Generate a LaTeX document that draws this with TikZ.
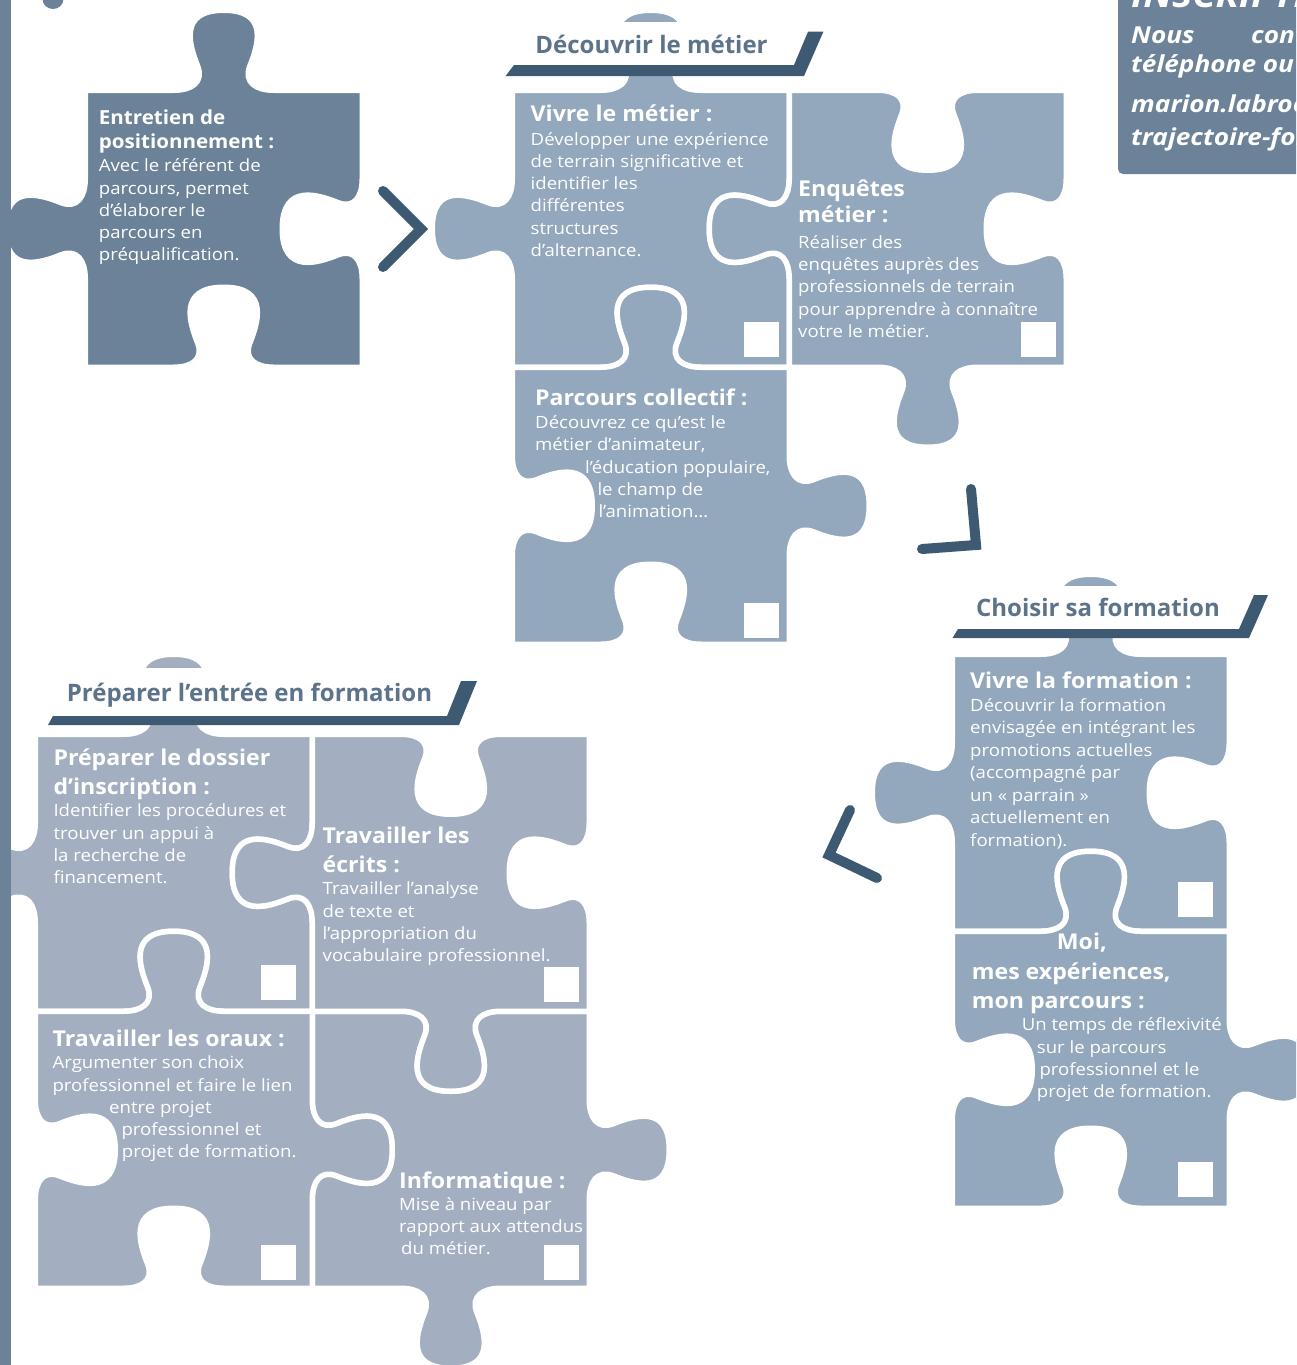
\documentclass[tikz,border=0pt]{standalone}
\usepackage{fontspec}
\setmainfont{Open Sans}
\newfontfamily\bodyf[FakeStretch=1.1]{Open Sans}
\newfontfamily\headf[FakeStretch=1.06]{Open Sans}
\newfontfamily\infof[FakeStretch=1.12]{Open Sans}
\definecolor{darkpiece}{RGB}{107,130,152}
\definecolor{navy}{RGB}{62,90,115}
\definecolor{titlec}{RGB}{92,115,138}
\definecolor{lightA}{RGB}{147,167,189}
\definecolor{lightB}{RGB}{163,175,193}
% one side of a puzzle piece: centre (#1,#2), direction (#3,#4), k=#5 (1 tab out, -1 blank in)
\newcommand\side[5]{%
 -- ({#1+(-50)*(#3)},{#2+(-50)*(#4)})
 .. controls ({#1+(-32)*(#3)},{#2+(-32)*(#4)})
 and ({#1+(-20)*(#3)+(#5)*(8)*(#4)},{#2+(-20)*(#4)-(#5)*(8)*(#3)})
 .. ({#1+(-26)*(#3)+(#5)*(24)*(#4)},{#2+(-26)*(#4)-(#5)*(24)*(#3)})
 .. controls ({#1+(-34)*(#3)+(#5)*(44)*(#4)},{#2+(-34)*(#4)-(#5)*(44)*(#3)})
 and ({#1+(-46)*(#3)+(#5)*(80)*(#4)},{#2+(-46)*(#4)-(#5)*(80)*(#3)})
 .. ({#1+(#5)*(80)*(#4)},{#2-(#5)*(80)*(#3)})
 .. controls ({#1+(46)*(#3)+(#5)*(80)*(#4)},{#2+(46)*(#4)-(#5)*(80)*(#3)})
 and ({#1+(34)*(#3)+(#5)*(44)*(#4)},{#2+(34)*(#4)-(#5)*(44)*(#3)})
 .. ({#1+(26)*(#3)+(#5)*(24)*(#4)},{#2+(26)*(#4)-(#5)*(24)*(#3)})
 .. controls ({#1+(20)*(#3)+(#5)*(8)*(#4)},{#2+(20)*(#4)-(#5)*(8)*(#3)})
 and ({#1+(32)*(#3)},{#2+(32)*(#4)})
 .. ({#1+(50)*(#3)},{#2+(50)*(#4)})
}
\newcommand\piece[7]{%
 \edef\ppath{({#1},{#2})
  \side{#1+138.5}{#2}{1}{0}{#3} -- ({#1+277},{#2})
  \side{#1+277}{#2+138.5}{0}{1}{#4} -- ({#1+277},{#2+277})
  \side{#1+138.5}{#2+277}{-1}{0}{#5} -- ({#1},{#2+277})
  \side{#1}{#2+138.5}{0}{-1}{#6} -- cycle}%
 \path[#7] \ppath;%
}
\newcommand\HL[4]{\node[head] (#1) at (#2,#3) {#4};}
\newcommand\BL[4]{\node[body] (#1) at (#2,#3) {#4};}
\begin{document}
\begin{tikzpicture}[x=1pt,y=-1pt,
 piece/.style={fill=#1, draw=white, line width=5.5pt, line join=round},
 head/.style={anchor=base west, inner sep=0, text=white, font=\headf\bfseries\fontsize{21.8}{24}\selectfont},
 ehead/.style={head, font=\headf\bfseries\fontsize{19.4}{24}\selectfont},
 body/.style={anchor=base west, inner sep=0, text=white, font=\bodyf\fontsize{16.9}{20}\selectfont},
 gtitle/.style={anchor=base, inner sep=0, text=titlec, font=\bfseries\fontsize{24}{28}\selectfont},
 info/.style={anchor=base west, inner sep=0, text=white, font=\infof\bfseries\itshape\fontsize{23.4}{26}\selectfont},
 chevron/.style={draw=navy, line width=10pt, line cap=round, line join=miter},
 sq/.style={fill=white}]
\useasboundingbox (0,0) rectangle (1296,1365);
\clip (0,0) rectangle (1296,1365);

% ---------- pieces ----------
\piece{85.25}{90.25}{1}{-1}{-1}{1}{piece=darkpiece}
% Decouvrir le metier
\piece{512.25}{90.25}{1}{-1}{-1}{1}{piece=lightA}
\piece{789.25}{90.25}{-1}{-1}{1}{1}{piece=lightA}
\piece{512.25}{367.25}{1}{1}{-1}{-1}{piece=lightA}
% Choisir sa formation
\piece{952.25}{654.25}{1}{-1}{-1}{1}{piece=lightA}
\piece{952.25}{931.25}{1}{1}{-1}{-1}{piece=lightA}
% Preparer l'entree en formation
\piece{35.25}{734.25}{1}{-1}{-1}{1}{piece=lightB}
\piece{312.25}{1011.25}{-1}{1}{1}{-1}{piece=lightB}
\piece{312.25}{734.25}{-1}{-1}{1}{1}{piece=lightB}
\piece{35.25}{1011.25}{1}{1}{-1}{-1}{piece=lightB}

% ---------- group titles ----------
\fill[white] (500,22) rectangle (830,65.5);
\fill[white] (945,586) rectangle (1275,629);
\fill[white] (40,668) rectangle (485,716);
\fill[navy] (505.6,76) -- (514,65) -- (794,65) -- (808,31.7) -- (823.4,31.7) -- (804,76) -- cycle;
\fill[navy] (952.5,638) -- (958,629) -- (1239,629) -- (1254,595) -- (1268,595) -- (1249,638) -- cycle;
\fill[navy] (48,725) -- (53,716) -- (447,716) -- (461,681) -- (477,681) -- (459,725) -- cycle;
\node[gtitle] (g1) at (651.5,53.3) {Découvrir le métier};
\node[gtitle] (g2) at (1098,616.5) {Choisir sa formation};
\node[gtitle] (g3) at (249.5,701) {Préparer l’entrée en formation};

% ---------- white squares ----------
\fill[sq] (744,322) rectangle (779,357);
\fill[sq] (1021,322) rectangle (1056,357);
\fill[sq] (744,603) rectangle (779,638);
\fill[sq] (1178,882) rectangle (1213,917);
\fill[sq] (1178,1162) rectangle (1213,1197);
\fill[sq] (261,965) rectangle (296,1000);
\fill[sq] (544,967) rectangle (579,1002);
\fill[sq] (261,1245) rectangle (296,1280);
\fill[sq] (544,1245) rectangle (579,1280);

% ---------- texts ----------
% Entretien
\node[ehead] (e1) at (98.7,124) {Entretien de};
\node[ehead] (e2) at (98.7,148.3) {positionnement :};
\BL{e3}{98.7}{171.7}{Avec le référent de}
\BL{e4}{98.7}{194}{parcours, permet}
\BL{e5}{98.7}{216.3}{d’élaborer le}
\BL{e6}{98.7}{238.6}{parcours en}
\BL{e7}{98.7}{260.9}{préqualification.}
% Vivre le metier
\HL{v1}{530.5}{121.7}{Vivre le métier :}
\BL{v2}{530.5}{145}{Développer une expérience}
\BL{v3}{530.5}{167.3}{de terrain significative et}
\BL{v4}{530.5}{189.6}{identifier les}
\BL{v5}{530.5}{211.9}{différentes}
\BL{v6}{530.5}{234.2}{structures}
\BL{v7}{530.5}{256.5}{d’alternance.}
% Enquetes metier
\HL{q1}{798}{196.7}{Enquêtes}
\HL{q2}{798}{222.7}{métier :}
\BL{q3}{798}{248.3}{Réaliser des}
\BL{q4}{798}{270.6}{enquêtes auprès des}
\BL{q5}{798}{292.9}{professionnels de terrain}
\BL{q6}{798}{315.2}{pour apprendre à connaître}
\BL{q7}{798}{337.5}{votre le métier.}
% Parcours collectif
\HL{p1}{535}{405}{Parcours collectif :}
\BL{p2}{535}{428.3}{Découvrez ce qu’est le}
\BL{p3}{535}{450.7}{métier d’animateur,}
\BL{p4}{585}{473}{l’éducation populaire,}
\BL{p5}{597.3}{495.3}{le champ de}
\BL{p6}{598.3}{517.6}{l’animation…}
% Vivre la formation
\HL{f1}{970}{688}{Vivre la formation :}
\BL{f2}{970}{711}{Découvrir la formation}
\BL{f3}{970}{733.5}{envisagée en intégrant les}
\BL{f4}{970}{756}{promotions actuelles}
\BL{f5}{970}{778.5}{(accompagné par}
\BL{f6}{970}{801}{un « parrain »}
\BL{f7}{970}{823.5}{actuellement en}
\BL{f8}{970}{846}{formation).}
% Moi
\HL{m1}{1056.7}{949.3}{Moi,}
\HL{m2}{971.7}{979.3}{mes expériences,}
\HL{m3}{971.7}{1008.3}{mon parcours :}
\BL{m4}{1021.7}{1030.7}{Un temps de réflexivité}
\BL{m5}{1036.7}{1053.3}{sur le parcours}
\BL{m6}{1039.3}{1075.7}{professionnel et le}
\BL{m7}{1036.7}{1097.3}{projet de formation.}
% Preparer le dossier
\HL{a1}{53.3}{765}{Préparer le dossier}
\HL{a2}{53.3}{794}{d’inscription :}
\BL{a3}{53.3}{816.7}{Identifier les procédures et}
\BL{a4}{53.3}{839}{trouver un appui à}
\BL{a5}{53.3}{861.2}{la recherche de}
\BL{a6}{53.3}{883.4}{financement.}
% Travailler les ecrits
\HL{b1}{322.5}{843.5}{Travailler les}
\HL{b2}{322.5}{872}{écrits :}
\BL{b3}{322.5}{894.8}{Travailler l’analyse}
\BL{b4}{322.5}{917}{de texte et}
\BL{b5}{322.5}{939.4}{l’appropriation du}
\BL{b6}{322.5}{961.6}{vocabulaire professionnel.}
% Travailler les oraux
\HL{c1}{52.4}{1046.7}{Travailler les oraux :}
\BL{c2}{52.4}{1068.6}{Argumenter son choix}
\BL{c3}{52.4}{1091.2}{professionnel et faire le lien}
\BL{c4}{109}{1113}{entre projet}
\BL{c5}{121.3}{1135.2}{professionnel et}
\BL{c6}{121.7}{1157.5}{projet de formation.}
% Informatique
\HL{d1}{399}{1188.3}{Informatique :}
\BL{d2}{399}{1210}{Mise à niveau par}
\BL{d3}{399}{1232.3}{rapport aux attendus}
\BL{d4}{401}{1254}{du métier.}

% ---------- chevrons ----------
\coordinate (r1a) at (383,191); \coordinate (r1b) at (421,229); \coordinate (r1c) at (383,267);
\draw[chevron] (r1a) -- (r1b) -- (r1c);
\coordinate (r2a) at (971,489); \coordinate (r2b) at (976,545); \coordinate (r2c) at (922,549);
\draw[chevron] (r2a) -- (r2b) -- (r2c);
\coordinate (r3a) at (850,810); \coordinate (r3b) at (829,855); \coordinate (r3c) at (877,878);
\draw[chevron] (r3a) -- (r3b) -- (r3c);

% ---------- left bar and top fragments ----------
\fill[darkpiece] (0,0) rectangle (11,1365);
\fill[darkpiece] (53,-1) ellipse [x radius=10.5, y radius=10];

% ---------- info box ----------
\fill[darkpiece, rounded corners=5pt] (1118,-20) rectangle (1330,174);
\node[info, font=\infof\bfseries\itshape\fontsize{34}{34}\selectfont] (ins) at (1131,7) {INSCRIPTION};
\node[info] (nous) at (1131,43) {Nous};
\node[info] (cont) at (1251,43) {contacter};
\node[info] (tel) at (1131,72) {téléphone ou};
\node[info] (ml1) at (1131,112.5) {marion.labroc};
\node[info] (ml2) at (1131,145) {trajectoire-for};
\end{tikzpicture}
\end{document}
